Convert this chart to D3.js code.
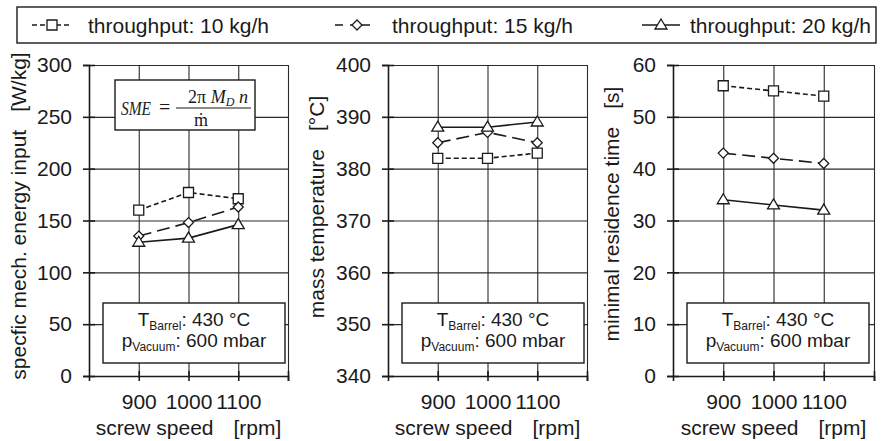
<!DOCTYPE html>
<html><head><meta charset="utf-8">
<script src="https://cdn.jsdelivr.net/npm/d3@7"></script>
<style>
body{margin:0;background:#fff;}
svg{display:block;font-family:"Liberation Sans",Arial,sans-serif;}
</style></head><body>
<svg id="chart" width="881" height="441"></svg>
<script>
// Screw speeds (rpm) and axis ticks
const speeds = [900, 1000, 1100];
const xTicks = [900, 1000, 1100, 1200];
const xTickLabels = ["900", "1000", "1100", ""];
const seriesNames = ["throughput: 10 kg/h", "throughput: 15 kg/h", "throughput: 20 kg/h"];

// Specific mechanical energy input [W/kg]
const smeTicks = [0, 50, 100, 150, 200, 250, 300];
const sme10 = [160, 177, 171];
const sme15 = [135, 148, 163];
const sme20 = [129, 133, 146];

// Mass temperature [°C]
const tempTicks = [340, 350, 360, 370, 380, 390, 400];
const temp10 = [382, 382, 383];
const temp15 = [385, 387, 385];
const temp20 = [388, 388, 389];

// Minimal residence time [s]
const resTicks = [0, 10, 20, 30, 40, 50, 60];
const res10 = [56, 55, 54];
const res15 = [43, 42, 41];
const res20 = [34, 33, 32];

const yTitles = ["specfic mech. energy input", "mass temperature", "minimal residence time"];
const yUnits = ["[W/kg]", "[°C]", "[s]"];
const xTitle = "screw speed";
const xUnit = "[rpm]";

const svg = d3.select("#chart");
const ink = "#1a1a1a";

// series styling: dash pattern and marker type
const styles = [
  {dash: "5,3", marker: "square"},
  {dash: "13,6", marker: "diamond"},
  {dash: null, marker: "triangle"}
];

function markerPath(type) {
  if (type === "square") return "M-5,-5H5V5H-5Z";
  if (type === "diamond") return "M0,-5L5,0L0,5L-5,0Z";
  return "M0,-6L6,4H-6Z";
}

const panels = [
  {ticks: smeTicks, series: [sme10, sme15, sme20], left: 89, right: 288, tx: 18, ty: 216},
  {ticks: tempTicks, series: [temp10, temp15, temp20], left: 388, right: 587, tx: 316, ty: 207},
  {ticks: resTicks, series: [res10, res15, res20], left: 673, right: 874, tx: 611, ty: 214}
];
const plotTop = 65, plotBottom = 376;

panels.forEach((p, pi) => {
  const x = d3.scaleLinear().domain([800, 1200]).range([p.left, p.right]);
  const y = d3.scaleLinear().domain(d3.extent(p.ticks)).range([plotBottom, plotTop]);
  const w = p.right - p.left;
  const g = svg.append("g");

  // grid
  g.append("g").attr("transform", `translate(${p.left},0)`)
    .call(d3.axisLeft(y).tickValues(p.ticks).tickSize(-w).tickFormat(""))
    .call(s => { s.select(".domain").remove(); s.selectAll("line").attr("stroke", "#2a2a2a").attr("stroke-width", 1.1); });
  g.append("g").attr("transform", `translate(0,${plotBottom})`)
    .call(d3.axisBottom(x).tickValues(xTicks).tickSize(-(plotBottom - plotTop)).tickFormat(""))
    .call(s => { s.select(".domain").remove(); s.selectAll("line").attr("stroke", "#2a2a2a").attr("stroke-width", 1.1); });

  // parameter box
  const bx = p.left + 14, bw = 182;
  g.append("rect").attr("x", bx).attr("y", 303).attr("width", bw).attr("height", 60)
    .attr("fill", "#fff").attr("stroke", ink).attr("stroke-width", 1.4);
  const cx = bx + bw / 2;
  const t1 = g.append("text").attr("x", cx).attr("y", 326).attr("text-anchor", "middle")
    .attr("font-size", 19).attr("fill", ink);
  t1.append("tspan").text("T");
  t1.append("tspan").attr("dy", 4).attr("font-size", 12).text("Barrel");
  t1.append("tspan").attr("dy", -4).text(": 430 °C");
  const t2 = g.append("text").attr("x", cx).attr("y", 347).attr("text-anchor", "middle")
    .attr("font-size", 19).attr("fill", ink);
  t2.append("tspan").text("p");
  t2.append("tspan").attr("dy", 4).attr("font-size", 12).text("Vacuum");
  t2.append("tspan").attr("dy", -4).text(": 600 mbar");

  // y axis with crossing ticks
  g.append("g").attr("transform", `translate(${p.left},0)`)
    .call(d3.axisLeft(y).tickValues(p.ticks).tickSize(6).tickPadding(11))
    .call(s => {
      s.select(".domain").attr("stroke", ink).attr("stroke-width", 1.6);
      s.selectAll("line").attr("x1", 6).attr("stroke", ink).attr("stroke-width", 1.6);
      s.selectAll("text").attr("font-size", 21).attr("fill", ink).attr("font-family", "Liberation Sans, Arial, sans-serif");
    });
  // x axis with crossing ticks
  g.append("g").attr("transform", `translate(0,${plotBottom})`)
    .call(d3.axisBottom(x).tickValues(xTicks).tickSize(5).tickPadding(13).tickFormat((d, i) => xTickLabels[i]))
    .call(s => {
      s.select(".domain").attr("stroke", ink).attr("stroke-width", 1.6);
      s.selectAll("line").attr("y1", -5).attr("stroke", ink).attr("stroke-width", 1.6);
      s.selectAll("text").attr("font-size", 21).attr("fill", ink).attr("font-family", "Liberation Sans, Arial, sans-serif");
    });

  // axis titles
  const xt = g.append("text").attr("x", (p.left + p.right) / 2).attr("y", 435)
    .attr("text-anchor", "middle").attr("font-size", 21).attr("fill", ink);
  xt.append("tspan").text(xTitle);
  xt.append("tspan").attr("dx", 20).text(xUnit);
  const yt = g.append("text").attr("transform", `translate(${p.tx},${p.ty}) rotate(-90)`)
    .attr("text-anchor", "middle").attr("dominant-baseline", "central")
    .attr("font-size", 21).attr("fill", ink);
  yt.append("tspan").text(yTitles[pi]);
  yt.append("tspan").attr("dx", 18).text(yUnits[pi]);

  // series
  const line = d3.line().x((d, i) => x(speeds[i])).y(d => y(d));
  p.series.forEach((vals, si) => {
    g.append("path").datum(vals).attr("d", line).attr("fill", "none")
      .attr("stroke", ink).attr("stroke-width", 1.6)
      .attr("stroke-dasharray", styles[si].dash);
  });
  p.series.forEach((vals, si) => {
    g.selectAll(null).data(vals).enter().append("path")
      .attr("transform", (d, i) => `translate(${x(speeds[i])},${y(d)})`)
      .attr("d", markerPath(styles[si].marker))
      .attr("fill", "#fff").attr("stroke", ink).attr("stroke-width", 1.3);
  });
});

// SME formula box in the first panel
const f = svg.append("g").attr("font-family", "Liberation Serif, DejaVu Serif, serif").attr("fill", ink);
f.append("rect").attr("x", 115).attr("y", 80).attr("width", 140).attr("height", 50)
  .attr("fill", "#fff").attr("stroke", ink).attr("stroke-width", 1.4);
f.append("text").attr("x", 121).attr("y", 115).attr("font-size", 19).attr("font-style", "italic")
  .attr("textLength", 30).attr("lengthAdjust", "spacingAndGlyphs").text("SME");
f.append("text").attr("x", 159).attr("y", 114).attr("font-size", 20).text("=");
f.append("line").attr("x1", 176).attr("x2", 251).attr("y1", 108).attr("y2", 108)
  .attr("stroke", ink).attr("stroke-width", 1.1);
const num = f.append("text").attr("x", 218).attr("y", 103).attr("text-anchor", "middle").attr("font-size", 18);
num.append("tspan").text("2π ");
num.append("tspan").attr("font-style", "italic").text("M");
num.append("tspan").attr("font-style", "italic").attr("font-size", 12).attr("dy", 3).text("D");
num.append("tspan").attr("font-style", "italic").attr("dy", -3).text(" n");
f.append("text").attr("x", 201).attr("y", 126).attr("text-anchor", "middle").attr("font-size", 18).text("ṁ");

// legend
const lg = svg.append("g");
lg.append("rect").attr("x", 17).attr("y", 7).attr("width", 859).attr("height", 36)
  .attr("fill", "#fff").attr("stroke", ink).attr("stroke-width", 1.4);
const legendItems = [
  {x1: 32, x2: 72, mx: 52, tx: 88, dash: "5,3"},
  {x1: 335, x2: 370, mx: 357, tx: 392, dash: "8,7,20"},
  {x1: 642, x2: 680, mx: 661, tx: 690, dash: null}
];
legendItems.forEach((it, i) => {
  lg.append("line").attr("x1", it.x1).attr("x2", it.x2).attr("y1", 25).attr("y2", 25)
    .attr("stroke", ink).attr("stroke-width", 1.6).attr("stroke-dasharray", it.dash);
  lg.append("path").attr("transform", `translate(${it.mx},25)`).attr("d", markerPath(styles[i].marker))
    .attr("fill", "#fff").attr("stroke", ink).attr("stroke-width", 1.3);
  lg.append("text").attr("x", it.tx).attr("y", 33).attr("font-size", 21).attr("fill", ink).text(seriesNames[i]);
});
</script>
</body></html>
